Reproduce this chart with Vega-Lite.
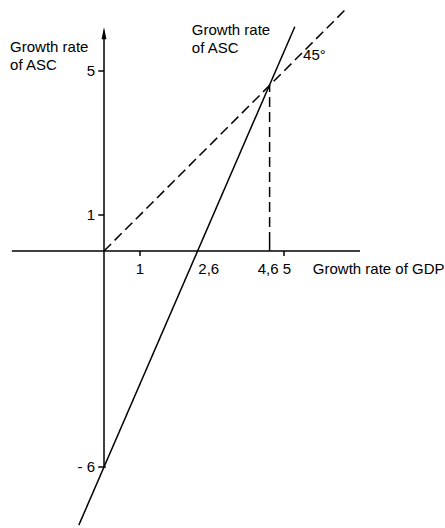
{
  "$schema": "https://vega.github.io/schema/vega-lite/v6.json",
  "width": 445,
  "height": 528,
  "padding": 0,
  "autosize": {"type": "none"},
  "background": "white",
  "config": {"view": {"stroke": null}},
  "datasets": {
    "segs": [
      {"kind": "axis", "x": -2.56, "y": 0, "x2": 7.11, "y2": 0},
      {"kind": "axis", "x": 0, "y": -6.0, "x2": 0, "y2": 6.1},
      {"kind": "axis", "x": 1, "y": 0, "x2": 1, "y2": -0.14},
      {"kind": "axis", "x": 5, "y": 0, "x2": 5, "y2": -0.14},
      {"kind": "axis", "x": 4.6, "y": 0, "x2": 4.6, "y2": 0.25},
      {"kind": "axis", "x": 0, "y": 5, "x2": -0.16, "y2": 5},
      {"kind": "axis", "x": 0, "y": 1, "x2": -0.16, "y2": 1},
      {"kind": "axis", "x": 0.05, "y": -6, "x2": -0.16, "y2": -6},
      {"kind": "solid", "x": -0.7, "y": -7.615, "x2": 5.3, "y2": 6.231},
      {"kind": "dash", "x": 0, "y": 0, "x2": 6.75, "y2": 6.75},
      {"kind": "dash", "x": 4.6, "y": 0.25, "x2": 4.6, "y2": 4.6}
    ],
    "arrow": [{"x": 0, "y": 6.05}],
    "labels": [
      {"role": "xtick", "x": 1, "y": -0.51, "text": "1"},
      {"role": "xtickafter", "x": 2.62, "y": -0.51, "text": "2,6"},
      {"role": "xtick", "x": 4.56, "y": -0.51, "text": "4,6"},
      {"role": "xtick", "x": 5.08, "y": -0.51, "text": "5"},
      {"role": "ytick", "x": 0, "y": 5, "text": "5"},
      {"role": "ytick", "x": 0, "y": 1, "text": "1"},
      {"role": "ytick", "x": 0, "y": -6, "text": "- 6"},
      {"role": "title", "x": 5.8, "y": -0.51, "text": "Growth rate of GDP"},
      {"role": "title", "x": 5.53, "y": 5.44, "text": "45°"},
      {"role": "block", "x": -2.61, "y": 5.86, "text": "Growth rate\nof ASC"},
      {"role": "block", "x": 2.44, "y": 6.33, "text": "Growth rate\nof ASC"}
    ]
  },
  "encoding": {
    "x": {"type": "quantitative", "scale": {"domain": [-2.889, 9.472], "nice": false, "zero": false}, "axis": null},
    "y": {"type": "quantitative", "scale": {"domain": [-7.694, 6.972], "nice": false, "zero": false}, "axis": null}
  },
  "layer": [
    {
      "data": {"name": "segs"},
      "transform": [{"filter": "datum.kind === 'axis' || datum.kind === 'solid'"}],
      "mark": {"type": "rule", "color": "black", "strokeWidth": 1.5},
      "encoding": {"x": {"field": "x"}, "y": {"field": "y"}, "x2": {"field": "x2"}, "y2": {"field": "y2"}}
    },
    {
      "data": {"name": "segs"},
      "transform": [{"filter": "datum.kind === 'dash'"}],
      "mark": {"type": "rule", "color": "black", "strokeWidth": 1.5, "strokeDash": [10, 5]},
      "encoding": {"x": {"field": "x"}, "y": {"field": "y"}, "x2": {"field": "x2"}, "y2": {"field": "y2"}}
    },
    {
      "data": {"name": "arrow"},
      "mark": {"type": "point", "shape": "M0,-1L0.4,1L-0.4,1Z", "filled": true, "color": "black", "size": 150, "opacity": 1},
      "encoding": {"x": {"field": "x"}, "y": {"field": "y"}}
    },
    {
      "data": {"name": "labels"},
      "transform": [{"filter": "datum.role === 'xtick'"}],
      "mark": {"type": "text", "font": "Liberation Sans", "fontSize": 15, "align": "center", "baseline": "middle", "color": "black"},
      "encoding": {"x": {"field": "x"}, "y": {"field": "y"}, "text": {"field": "text"}}
    },
    {
      "data": {"name": "labels"},
      "transform": [{"filter": "datum.role === 'xtickafter' || datum.role === 'title'"}],
      "mark": {"type": "text", "font": "Liberation Sans", "fontSize": 15, "align": "left", "baseline": "middle", "color": "black"},
      "encoding": {"x": {"field": "x"}, "y": {"field": "y"}, "text": {"field": "text"}}
    },
    {
      "data": {"name": "labels"},
      "transform": [{"filter": "datum.role === 'ytick'"}],
      "mark": {"type": "text", "font": "Liberation Sans", "fontSize": 15, "align": "right", "baseline": "middle", "dx": -9, "color": "black"},
      "encoding": {"x": {"field": "x"}, "y": {"field": "y"}, "text": {"field": "text"}}
    },
    {
      "data": {"name": "labels"},
      "transform": [{"filter": "datum.role === 'block'"}],
      "mark": {"type": "text", "font": "Liberation Sans", "fontSize": 15, "align": "left", "baseline": "top", "lineBreak": "\n", "lineHeight": 18, "color": "black"},
      "encoding": {"x": {"field": "x"}, "y": {"field": "y"}, "text": {"field": "text"}}
    }
  ]
}
